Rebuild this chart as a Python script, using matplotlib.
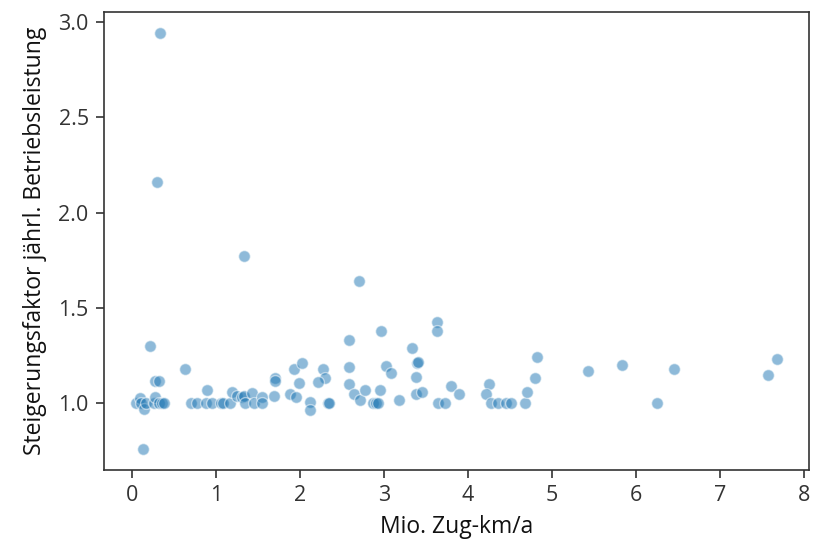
import matplotlib
matplotlib.use("Agg")
import matplotlib.pyplot as plt

plt.rcParams['font.family'] = ['Open Sans', 'DejaVu Sans']

zug_km = [0.33, 0.30, 1.33, 2.71, 0.22, 0.28, 0.32, 0.63, 0.13,
          0.05, 0.10, 0.11, 0.15, 0.17, 0.265, 0.28, 0.32, 0.36, 0.38,
          0.70, 0.78, 0.90, 0.88, 0.96, 1.06, 1.08, 1.17, 1.19, 1.25,
          1.31, 1.34, 1.35, 1.43, 1.45, 1.55, 1.55, 1.69, 1.70, 1.70,
          1.93, 2.03, 1.985, 1.88, 1.96, 2.12, 2.12, 2.28, 2.30, 2.22,
          2.33, 2.35, 2.58, 2.97, 2.58, 2.58, 2.645, 2.72, 2.78, 2.95,
          2.87, 2.91, 2.935, 3.02, 3.08, 3.18, 3.33, 3.39, 3.41, 3.38,
          3.38, 3.46, 3.63, 3.63, 3.645, 3.725, 3.80, 3.90, 4.25, 4.22,
          4.28, 4.36, 4.46, 4.51, 4.68, 4.70, 4.80, 4.82, 5.43, 5.83,
          6.25, 6.45, 7.57, 7.68]
steigerung = [2.944, 2.16, 1.775, 1.644, 1.30, 1.12, 1.12, 1.18, 0.76,
              1.00, 1.03, 1.00, 0.972, 1.00, 1.00, 1.035, 1.00, 1.00, 1.00,
              1.00, 1.00, 1.07, 1.00, 1.00, 1.00, 1.00, 1.00, 1.06, 1.04,
              1.035, 1.04, 1.00, 1.056, 1.00, 1.035, 1.00, 1.04, 1.135, 1.117,
              1.178, 1.213, 1.105, 1.05, 1.035, 1.007, 0.968, 1.178, 1.135, 1.11,
              1.00, 1.00, 1.335, 1.378, 1.19, 1.10, 1.047, 1.016, 1.073, 1.073,
              1.00, 1.00, 1.00, 1.195, 1.157, 1.016, 1.29, 1.21, 1.215, 1.138,
              1.047, 1.06, 1.426, 1.379, 1.00, 1.00, 1.09, 1.047, 1.10, 1.047,
              1.00, 1.00, 1.00, 1.00, 1.00, 1.06, 1.135, 1.245, 1.17, 1.204,
              1.00, 1.178, 1.147, 1.234]

fig = plt.figure(figsize=(8.14, 5.45), dpi=100)
ax = fig.add_axes([104/814, 1-470/545, (809-104)/814, (470-12)/545])
ax.scatter(zug_km, steigerung, s=72, color='#1f77b4', alpha=0.5,
           edgecolors='white', linewidths=1.0)
ax.margins(0.05)
ax.set_xticks(range(0, 9))
ax.set_yticks([1.0, 1.5, 2.0, 2.5, 3.0])
ax.tick_params(labelsize=15.5, length=6, width=1.2, colors='#333333',
               labelcolor='#333333', pad=5)
for sp in ax.spines.values():
    sp.set_color('#333333')
    sp.set_linewidth(1.2)
ax.set_xlabel('Mio. Zug-km/a', fontsize=16.5, color='#111111', labelpad=6)
ax.set_ylabel('Steigerungsfaktor jährl. Betriebsleistung', fontsize=16.5,
              color='#111111', labelpad=8)
fig.savefig('out.png', dpi=100)
